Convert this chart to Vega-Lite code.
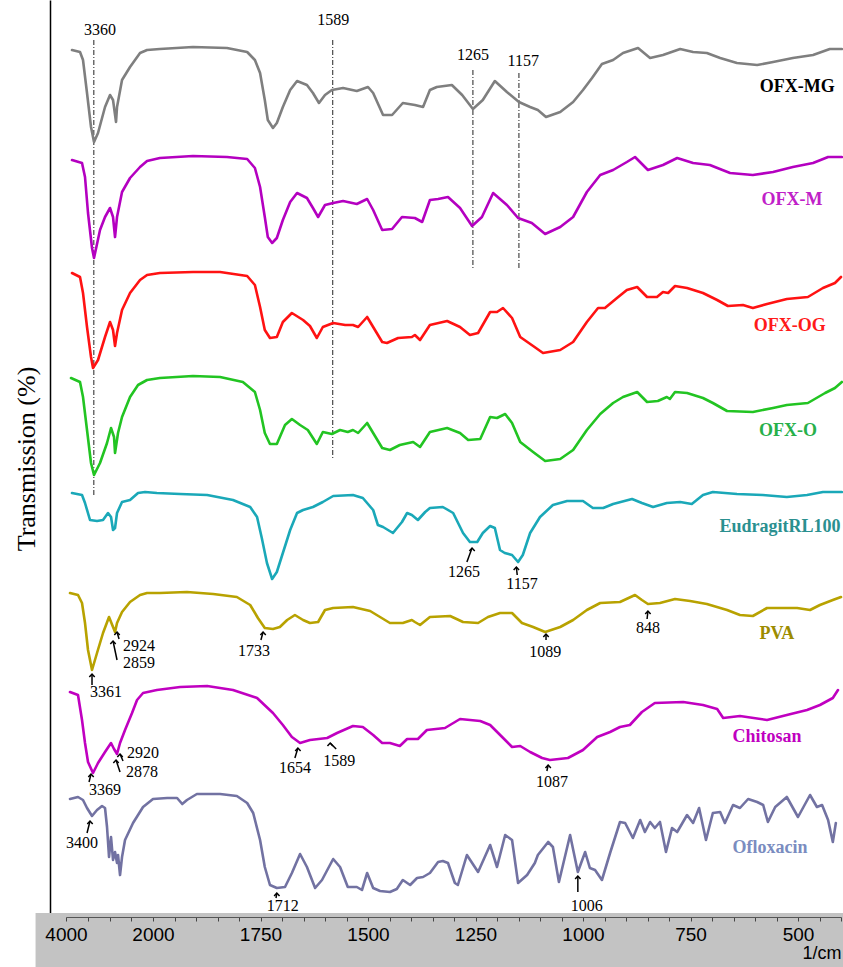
{
  "$schema": "https://vega.github.io/schema/vega-lite/v6.json",
  "width": 793,
  "height": 917,
  "autosize": {"type": "none"},
  "padding": {"left": 50, "top": 0, "right": 0, "bottom": 50},
  "background": "#ffffff",
  "config": {"view": {"stroke": null}, "axis": {"grid": false}},
  "encoding": {
    "x": {"field": "w", "type": "quantitative",
      "scale": {"domain": [4000, 2000, 400], "range": [16, 103, 791], "nice": false, "zero": false},
      "axis": {"title": "1/cm",
        "values": [4000,3500,3000,2500,2000,1950,1900,1850,1800,1750,1700,1650,1600,1550,1500,1450,1400,1350,1300,1250,1200,1150,1100,1050,1000,950,900,850,800,750,700,650,600,550,500,450,400],
        "format": "d",
        "labelExpr": "indexof([4000,2000,1750,1500,1250,1000,750,500], datum.value) >= 0 ? datum.label : ''",
        "tickSize": 4, "tickColor": "#444", "domainColor": "#555", "domainWidth": 1,
        "labelFont": "Liberation Sans Narrow, Liberation Sans, Arial", "labelFontSize": 19, "labelColor": "#000",
        "labelPadding": 4, "labelFlush": false, "labelOverlap": false, "zindex": 1,
        "titleAnchor": "end", "titleFont": "Liberation Sans Narrow, Liberation Sans, Arial", "titleFontSize": 18,
        "titleFontWeight": "normal", "titleColor": "#000", "titlePadding": 0, "grid": false}},
    "y": {"field": "t", "type": "quantitative",
      "scale": {"domain": [5, 922], "nice": false, "zero": false},
      "axis": {"title": "Transmission (%)", "domain": true, "domainColor": "#000", "domainWidth": 1.5,
        "ticks": false, "labels": false, "grid": false, "titleFont": "Liberation Serif", "titleFontSize": 26,
        "titleFontWeight": "normal", "titleColor": "#000", "titlePadding": 11}}
  },
  "layer": [
    {
      "data": {"values": [{"w": 4700, "w2": 380, "t": 9, "t2": -45}]},
      "mark": {"type": "rect", "color": "#c3c3c3"},
      "encoding": {
        "x2": {"field": "w2"},
        "y2": {"field": "t2"}
      }
    },
    {
      "data": {"values": [
        {"w": 3360, "t": 882, "t2": 425},
        {"w": 1582, "t": 882, "t2": 464},
        {"w": 1256, "t": 852, "t2": 654},
        {"w": 1149, "t": 849, "t2": 652}
      ]},
      "mark": {"type": "rule", "color": "#222", "strokeWidth": 1, "strokeDash": [5, 2, 1, 2]},
      "encoding": {
        "y2": {"field": "t2"}
      }
    },
    {
      "data": {"values": [
        {"s": "OFX-MG",
         "w": [3862,3678,3609,3517,3425,3356,3264,3103,2988,2919,2850,2827,2712,2528,2298,2137,1984,1907,1828,1781,1763,1751,1740,1733,1721,1712,1698,1681,1665,1642,1628,1614,1600,1584,1558,1526,1500,1488,1465,1444,1419,1391,1372,1356,1340,1305,1281,1256,1233,1205,1177,1149,1123,1105,1086,1053,1023,1000,979,956,930,907,872,844,814,774,744,712,681,642,595,558,512,465,426,398],
         "t": [872,870,862,829,795,780,789,815,827,822,800,815,842,855,869,872,873,875,874,870,862,849,822,802,794,799,815,832,841,837,829,819,827,832,834,831,835,829,807,807,819,817,815,832,835,837,827,813,822,841,830,820,815,812,805,810,820,832,844,858,862,869,874,864,867,873,870,869,864,859,857,860,864,867,873,873]},
        {"s": "OFX-M",
         "w": [3862,3632,3563,3494,3402,3356,3218,3103,2988,2919,2873,2827,2712,2528,2298,2137,1984,1907,1828,1781,1763,1751,1740,1733,1723,1712,1698,1681,1665,1642,1628,1616,1600,1581,1558,1526,1502,1488,1467,1444,1421,1391,1374,1356,1337,1314,1286,1258,1235,1209,1177,1151,1119,1088,1053,1023,991,960,930,898,879,849,814,781,744,705,658,605,558,512,465,430,398],
         "t": [762,759,745,709,674,664,692,705,714,705,685,705,730,744,755,761,764,766,765,763,754,735,705,685,679,684,702,720,729,724,714,705,717,719,721,718,723,712,692,693,705,704,700,722,723,725,714,696,705,729,717,704,699,688,695,705,730,747,752,760,765,752,757,764,759,757,749,747,750,755,759,765,765]},
        {"s": "OFX-OG",
         "w": [3862,3678,3609,3517,3425,3379,3264,3103,2988,2919,2873,2827,2712,2528,2298,2137,1984,1907,1844,1781,1763,1751,1740,1728,1712,1698,1677,1651,1635,1619,1605,1581,1553,1535,1523,1502,1488,1467,1456,1430,1398,1391,1379,1356,1316,1286,1263,1244,1216,1200,1186,1165,1146,1116,1093,1053,1023,991,965,949,921,898,874,851,828,814,802,786,758,721,688,663,628,605,572,526,477,442,414,400],
         "t": [649,645,629,595,565,554,562,585,600,592,576,589,612,629,642,647,649,650,650,646,637,615,592,584,585,600,609,602,596,584,595,599,597,597,595,605,595,580,579,584,585,587,582,597,601,595,587,589,610,610,614,604,585,576,569,572,580,600,614,614,624,632,635,625,625,630,629,636,634,629,622,616,617,614,618,623,625,634,639,645]},
        {"s": "OFX-O",
         "w": [3885,3678,3609,3517,3425,3356,3218,3057,2965,2896,2873,2804,2712,2528,2344,2137,1984,1907,1844,1791,1763,1751,1740,1728,1712,1693,1677,1658,1640,1619,1605,1584,1565,1547,1535,1523,1502,1488,1467,1449,1426,1395,1379,1356,1316,1286,1267,1239,1216,1200,1181,1165,1146,1116,1088,1053,1023,991,960,930,907,874,851,826,805,798,786,758,721,698,665,605,558,526,477,437,414,398],
         "t": [544,540,525,492,459,447,459,479,494,485,469,489,505,525,537,542,544,546,545,540,530,512,489,478,478,497,503,497,492,478,490,488,492,490,492,489,499,489,474,472,477,480,475,490,494,489,482,483,505,504,508,499,480,470,461,463,472,492,508,519,525,530,520,521,525,523,530,529,524,519,511,510,514,517,519,529,534,540]},
        {"s": "EudragitRL100",
         "w": [3862,3632,3563,3448,3287,3149,3034,2965,2919,2873,2827,2712,2528,2344,2183,1991,1937,1874,1814,1774,1758,1747,1735,1723,1712,1698,1681,1665,1651,1628,1605,1581,1535,1512,1488,1477,1465,1442,1421,1409,1398,1384,1367,1356,1326,1302,1279,1263,1246,1233,1216,1205,1193,1182,1165,1151,1140,1123,1100,1070,1037,1000,977,953,930,886,863,837,805,774,747,721,698,642,582,526,479,442,398],
         "t": [429,427,419,402,401,402,409,405,392,394,409,420,422,429,430,429,428,427,422,415,405,384,359,343,350,369,392,409,412,415,420,426,427,424,412,397,395,389,400,409,407,402,410,414,415,409,389,380,380,389,396,394,372,369,367,360,367,389,405,417,421,421,414,414,418,423,419,415,419,420,418,427,430,428,427,425,427,430,430]},
        {"s": "PVA",
         "w": [3908,3724,3632,3563,3494,3402,3287,3149,3011,2919,2873,2827,2712,2528,2298,2137,1984,1921,1860,1805,1774,1756,1740,1721,1705,1688,1670,1651,1635,1616,1600,1581,1535,1495,1472,1449,1419,1398,1391,1379,1356,1309,1279,1244,1221,1193,1165,1142,1116,1088,1053,1023,991,960,914,879,863,849,821,786,751,712,665,635,605,572,542,502,472,449,419,400],
         "t": [329,327,319,299,272,252,269,289,305,295,290,299,310,320,327,329,329,330,328,325,317,304,294,293,295,302,307,302,299,300,312,314,315,311,305,299,299,302,300,297,305,306,300,299,305,309,309,299,295,290,295,302,312,319,320,327,322,318,319,323,321,318,312,307,306,314,314,314,312,317,322,325]},
        {"s": "Chitosan",
         "w": [3908,3724,3632,3563,3494,3379,3264,3103,2965,2896,2827,2758,2643,2482,2367,2229,1991,1937,1874,1814,1758,1721,1698,1677,1658,1635,1595,1572,1535,1512,1488,1467,1449,1426,1409,1384,1363,1321,1286,1239,1216,1188,1165,1146,1123,1095,1077,1035,1000,967,937,914,891,863,833,767,721,688,674,635,572,526,479,449,419,407],
         "t": [230,227,202,179,160,149,159,170,179,173,168,179,192,209,222,229,232,235,236,232,224,209,197,185,179,182,184,189,196,195,187,179,179,176,183,183,192,194,203,201,197,185,175,176,170,164,162,164,172,185,190,195,197,210,219,220,217,213,204,206,202,207,212,217,224,232]},
        {"s": "Ofloxacin",
         "w": [3908,3724,3609,3517,3402,3287,3172,3103,3057,3011,2965,2919,2873,2827,2804,2758,2712,2643,2459,2229,2000,1967,1944,1932,1921,1898,1844,1805,1781,1767,1751,1740,1728,1712,1693,1677,1658,1642,1623,1607,1581,1565,1547,1526,1514,1502,1488,1472,1449,1433,1419,1402,1386,1372,1356,1337,1326,1314,1298,1291,1270,1244,1216,1200,1181,1165,1151,1130,1112,1105,1081,1070,1056,1030,1012,995,984,972,956,937,914,902,884,867,856,844,833,821,807,793,781,758,744,730,714,698,681,670,651,635,616,595,581,570,553,526,500,472,456,444,430,419,412],
         "t": [123,125,122,114,106,112,116,114,95,65,85,62,70,59,67,47,65,82,99,115,123,124,124,118,122,128,128,126,119,109,82,55,37,34,35,49,68,55,34,42,63,55,35,35,32,49,34,31,30,33,42,37,44,45,49,60,61,59,39,37,67,50,77,55,87,82,39,47,59,67,80,75,40,87,50,70,54,52,42,69,100,99,84,102,90,100,94,100,70,94,90,107,99,114,82,109,110,99,117,114,123,120,117,100,115,125,105,127,115,117,102,80,99]}
      ]},
      "transform": [{"flatten": ["w", "t"]}],
      "mark": {"type": "line", "strokeWidth": 2.6, "strokeJoin": "round", "strokeCap": "round"},
      "encoding": {
        "stroke": {"field": "s", "type": "nominal", "legend": null,
          "scale": {"domain": ["OFX-MG","OFX-M","OFX-OG","OFX-O","EudragitRL100","PVA","Chitosan","Ofloxacin"],
                    "range": ["#7f7f7f","#b400c0","#ff1212","#22c422","#1aa8b8","#b8a200","#c000c0","#7272a2"]}}
      }
    },
    {
      "data": {"values": [
        {"w": 1270, "t": 360, "w2": 1258, "t2": 374},
        {"w": 1153, "t": 347, "w2": 1155, "t2": 355},
        {"w": 3402, "t": 237, "w2": 3402, "t2": 248},
        {"w": 2781, "t": 283, "w2": 2827, "t2": 290},
        {"w": 2827, "t": 262, "w2": 2919, "t2": 281},
        {"w": 1749, "t": 282, "w2": 1744, "t2": 290},
        {"w": 1086, "t": 282, "w2": 1086, "t2": 288},
        {"w": 851, "t": 303, "w2": 849, "t2": 311},
        {"w": 3471, "t": 140, "w2": 3425, "t2": 148},
        {"w": 2689, "t": 161, "w2": 2758, "t2": 168},
        {"w": 2758, "t": 150, "w2": 2850, "t2": 162},
        {"w": 1670, "t": 164, "w2": 1663, "t2": 174},
        {"w": 1574, "t": 173, "w2": 1588, "t2": 179},
        {"w": 1084, "t": 151, "w2": 1081, "t2": 157},
        {"w": 3517, "t": 89, "w2": 3448, "t2": 101},
        {"w": 1714, "t": 24, "w2": 1712, "t2": 29},
        {"w": 1012, "t": 30, "w2": 1012, "t2": 46}
      ]},
      "mark": {"type": "rule", "color": "#000", "strokeWidth": 1.5},
      "encoding": {
        "x2": {"field": "w2"},
        "y2": {"field": "t2"}
      }
    },
    {
      "data": {"values": [
        {"w": 1258, "t": 374}, {"w": 1155, "t": 355}, {"w": 3402, "t": 248}, {"w": 2827, "t": 290},
        {"w": 2919, "t": 281}, {"w": 1744, "t": 290}, {"w": 1086, "t": 288}, {"w": 849, "t": 311},
        {"w": 3425, "t": 148}, {"w": 2758, "t": 168}, {"w": 2850, "t": 162}, {"w": 1663, "t": 174},
        {"w": 1588, "t": 179}, {"w": 1081, "t": 157}, {"w": 3448, "t": 101}, {"w": 1712, "t": 29},
        {"w": 1012, "t": 46}
      ]},
      "mark": {"type": "point", "shape": "M -0.9 1 L 0 0 L 0.9 1", "filled": false, "stroke": "#000", "strokeWidth": 1.5, "size": 36, "opacity": 1}
    },
    {
      "data": {"values": [
        {"label": "3360", "w": 3218, "t": 892},
        {"label": "1589", "w": 1581, "t": 902},
        {"label": "1265", "w": 1256, "t": 867},
        {"label": "1157", "w": 1139, "t": 861},
        {"label": "1265", "w": 1277, "t": 350},
        {"label": "1157", "w": 1142, "t": 338},
        {"label": "2924", "w": 2321, "t": 276},
        {"label": "2859", "w": 2321, "t": 259},
        {"label": "3361", "w": 3080, "t": 230},
        {"label": "1733", "w": 1765, "t": 271},
        {"label": "1089", "w": 1088, "t": 270},
        {"label": "848", "w": 849, "t": 294},
        {"label": "2920", "w": 2229, "t": 169},
        {"label": "2878", "w": 2252, "t": 150},
        {"label": "3369", "w": 3103, "t": 132},
        {"label": "1654", "w": 1670, "t": 154},
        {"label": "1589", "w": 1567, "t": 161},
        {"label": "1087", "w": 1072, "t": 140},
        {"label": "3400", "w": 3632, "t": 79},
        {"label": "1712", "w": 1698, "t": 16},
        {"label": "1006", "w": 991, "t": 16}
      ]},
      "mark": {"type": "text", "font": "Liberation Serif", "fontSize": 16, "color": "#000", "align": "center", "baseline": "middle"},
      "encoding": {
        "text": {"field": "label"}
      }
    },
    {
      "data": {"values": [
        {"s": "OFX-MG", "w": 502, "t": 835},
        {"s": "OFX-M", "w": 514, "t": 722},
        {"s": "OFX-OG", "w": 519, "t": 596},
        {"s": "OFX-O", "w": 523, "t": 491},
        {"s": "EudragitRL100", "w": 542, "t": 395},
        {"s": "PVA", "w": 549, "t": 288},
        {"s": "Chitosan", "w": 572, "t": 185},
        {"s": "Ofloxacin", "w": 565, "t": 74}
      ]},
      "mark": {"type": "text", "font": "Liberation Serif", "fontSize": 18, "fontWeight": "bold", "align": "center", "baseline": "middle"},
      "encoding": {
        "text": {"field": "s"},
        "fill": {"field": "s", "type": "nominal", "legend": null,
          "scale": {"domain": ["OFX-MG","OFX-M","OFX-OG","OFX-O","EudragitRL100","PVA","Chitosan","Ofloxacin"],
                    "range": ["#000000","#c020c8","#ff1a1a","#27b04a","#2a9090","#9c8c00","#c000c0","#7a8cc0"]}}
      }
    }
  ]
}
